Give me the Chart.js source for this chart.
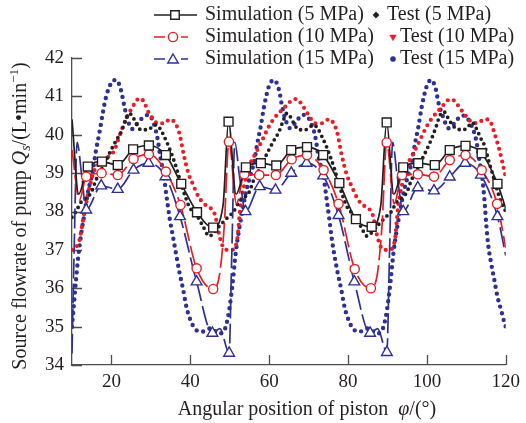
<!DOCTYPE html>
<html>
<head>
<meta charset="utf-8">
<script src="https://cdn.jsdelivr.net/npm/chart.js@4"></script>
<style>
  html, body { margin: 0; padding: 0; background: #fff; }
  canvas { display: block; }
</style>
</head>
<body>
<canvas id="flowChart" width="526" height="423"></canvas>
<script>
// ---- axis ticks ----
const xTicks = [20, 40, 60, 80, 100, 120];
const yTicks = [34, 35, 36, 37, 38, 39, 40, 41, 42];

// ---- simulation, 5 MPa (marked points + unmarked vertices) ----
const sim5X = [14, 17.6, 21.6, 25.5, 29.5, 33.8, 37.7, 41.7, 45.8, 49.7, 54.1, 57.9, 61.8, 65.6, 69.6, 73.7, 77.8, 82, 86, 89.8, 94, 97.8, 102, 105.8, 109.8, 113.9, 117.9];
const sim5Y = [39.17, 39.3, 39.21, 39.62, 39.72, 39.47, 38.72, 37.98, 37.58, 40.34, 39.15, 39.26, 39.2, 39.6, 39.68, 39.47, 38.74, 37.8, 37.6, 40.32, 39.15, 39.26, 39.21, 39.6, 39.71, 39.52, 38.72];
const sim5ExtraX = [10, 11.7, 48.3, 51.6, 88.3, 91.6, 120];
const sim5ExtraY = [40.4, 38.45, 38.15, 38.45, 38.15, 38.45, 38.08];

// ---- simulation, 10 MPa ----
const sim10X = [13.6, 17.5, 21.6, 25.6, 29.5, 33.8, 37.5, 41.6, 45.8, 49.8, 53.7, 57.5, 61.7, 65.7, 69.6, 73.8, 77.6, 81.7, 85.8, 89.8, 93.7, 97.7, 101.8, 105.8, 109.8, 113.9, 117.8];
const sim10Y = [38.91, 39.0, 38.95, 39.37, 39.49, 39.04, 38.17, 36.52, 35.98, 39.82, 38.97, 38.95, 38.95, 39.36, 39.47, 39.08, 38.2, 36.5, 36.0, 39.8, 38.95, 38.97, 38.91, 39.34, 39.47, 39.08, 38.2];
const sim10ExtraX = [10, 11.9, 47.4, 48.6, 51.7, 87.4, 88.6, 91.7, 120];
const sim10ExtraY = [39.6, 38.3, 36.35, 37.6, 38.2, 36.35, 37.6, 38.2, 37.05];

// ---- simulation, 15 MPa ----
const sim15X = [13.6, 17.4, 21.6, 25.6, 29.4, 33.7, 37.4, 41.6, 45.6, 49.85, 54, 57.6, 61.6, 65.6, 69.5, 73.7, 77.6, 81.6, 85.6, 89.85, 94, 97.7, 101.8, 105.8, 109.7, 113.7, 117.9];
const sim15Y = [38.04, 38.67, 38.58, 39.08, 39.26, 38.91, 37.87, 36.17, 34.83, 34.31, 38.0, 38.65, 38.56, 39.0, 39.26, 38.93, 37.9, 36.17, 34.83, 34.33, 38.0, 38.62, 38.54, 38.9, 39.26, 38.95, 37.87];
const sim15ExtraX = [10, 10.5, 11.3, 12.5, 47.5, 50.5, 51.3, 52.5, 87.5, 90.5, 91.3, 92.5, 120];
const sim15ExtraY = [34.3, 36.8, 39.8, 38.9, 34.95, 36.8, 39.8, 38.9, 34.95, 36.8, 39.8, 38.9, 36.85];

// ---- test, 5 MPa ----
const test5X = [
  10, 11, 12.4, 13.5, 14.9, 16, 17.4, 18.7, 19.9, 21.2, 22.5, 23.5, 24.5, 25.5, 26.5, 27.5, 29.2, 30.3, 31.3, 32.4, 33.4, 34.5, 35.5, 36.6, 37.6, 38.7, 39.7, 40.8, 41.8, 43.3, 44.8, 46, 47.2, 48.3, 49.5,
  51, 52.4, 53.5, 54.9, 56, 57.4, 58.7, 59.9, 61.2, 62.5, 63.5, 64.5, 65.5, 66.5, 67.5, 69.2, 70.3, 71.3, 72.4, 73.4, 74.5, 75.5, 76.6, 77.6, 78.7, 79.7, 80.8, 81.8, 83.3, 84.8, 86, 87.2, 88.3, 89.5,
  91, 92.4, 93.5, 94.9, 96, 97.4, 98.7, 99.9, 101.2, 102.3, 103.3, 104.3, 105.3, 106.5, 107.7, 109.3, 110.5, 111.5, 112.6, 113.7, 114.7, 115.6, 116.6, 117.7, 118.8, 120
];
const test5Y = [
  37.85, 38.0, 38.26, 38.35, 38.5, 38.8, 39.08, 39.35, 39.6, 39.85, 40.08, 40.35, 40.56, 40.45, 40.25, 40.13, 40.13, 40.2, 40.26, 40.15, 39.95, 39.7, 39.43, 39.1, 38.74, 38.4, 38.13, 37.98, 37.87, 37.6, 37.36, 37.45, 37.6, 37.72, 37.85,
  38.0, 38.26, 38.35, 38.5, 38.8, 39.08, 39.35, 39.6, 39.85, 40.08, 40.35, 40.56, 40.45, 40.25, 40.13, 40.13, 40.2, 40.26, 40.15, 39.95, 39.7, 39.43, 39.1, 38.74, 38.4, 38.13, 37.98, 37.87, 37.6, 37.36, 37.45, 37.6, 37.72, 37.85,
  38.0, 38.26, 38.35, 38.5, 38.8, 39.08, 39.35, 39.6, 39.9, 40.2, 40.5, 40.6, 40.45, 40.25, 40.15, 40.13, 40.22, 40.32, 40.15, 39.9, 39.7, 39.35, 39.0, 38.6, 38.25, 38.0
];

// ---- test, 10 MPa ----
const test10X = [
  10, 10.9, 11.9, 12.8, 13.6, 14.6, 15.7, 17, 18.2, 19.5, 20.8, 21.8, 22.9, 24.1, 25.4, 26.6, 27.4, 28.5, 29.3, 30.5, 31.7, 33.4, 34.8, 35.8, 37.2, 38.3, 39.5, 40.7, 42, 43.5, 44.5, 45.5, 46.3, 47.2, 48.2, 49.3, 50.4,
  51.5, 52, 52.4, 52.8, 53.6, 54.9, 56.6, 58.25, 59.9, 61.6, 63.7, 65.2, 66.5, 67.3, 68.3, 69.2, 70.45, 71.7, 73.4, 74.5, 75.5, 76.3, 77.2, 78.4, 79.7, 80.95, 82.6, 84.3, 85.5, 86.3, 87.2, 88.2, 89.3, 90.5,
  91.5, 92, 92.4, 92.8, 93.6, 94.9, 96.6, 98.25, 99.9, 101.6, 103.5, 105, 105.9, 106.8, 107.8, 108.7, 110.4, 111.7, 113.3, 114.4, 115.4, 116.3, 117.1, 118.4, 119.6, 120
];
const test10Y = [
  37.0, 37.05, 37.26, 37.78, 38.22, 38.7, 39.08, 39.25, 39.34, 39.45, 39.6, 39.9, 40.21, 40.5, 40.73, 40.92, 40.95, 40.8, 40.6, 40.42, 40.3, 40.3, 40.4, 40.35, 40.05, 39.5, 39.0, 38.7, 38.4, 38.2, 38.13, 38.05, 37.9, 37.45, 37.1, 37.0, 37.0,
  37.1, 37.35, 37.8, 38.2, 38.65, 39.17, 39.52, 39.86, 40.21, 40.47, 40.69, 40.85, 40.93, 40.92, 40.78, 40.65, 40.43, 40.3, 40.3, 40.38, 40.4, 40.3, 40.08, 39.47, 38.95, 38.65, 38.3, 38.13, 38.05, 37.9, 37.45, 37.1, 37.0, 37.0,
  37.1, 37.35, 37.8, 38.2, 38.65, 39.17, 39.52, 39.86, 40.21, 40.47, 40.69, 40.87, 40.93, 40.9, 40.78, 40.65, 40.43, 40.3, 40.32, 40.4, 40.4, 40.3, 40.05, 39.6, 39.08, 38.9
];

// ---- test, 15 MPa ----
const test15X = [
  10, 10.5, 11, 11.5, 12.35, 13.2, 14, 15.3, 16.1, 17, 17.8, 18.65, 19.9, 21.2, 22.4, 23.3, 24.1, 25.3, 26.6, 28, 29.4, 30.5, 31.6, 32.4, 33.3, 34.1, 34.8, 35.6, 36.5, 37.3, 38.2, 39, 40.2, 41.4, 43, 44.2, 45.2, 46.3, 47.3, 48.3, 49, 49.85,
  50.7, 51.5, 52.4, 53.2, 54.1, 54.9, 56.2, 57, 57.85, 58.7, 59.9, 61.2, 62.5, 63.3, 64.15, 65.3, 66.7, 68.5, 69.6, 70.5, 71.7, 72.5, 73.8, 74.6, 75.2, 75.8, 76.6, 77.4, 78.3, 79.1, 80.3, 81.5, 83, 84.2, 85.2, 86.3, 87.3, 88.3, 89, 89.85,
  90.7, 91.5, 92.4, 93.2, 94.1, 94.9, 96.2, 97, 97.85, 98.7, 99.9, 101.1, 102.3, 102.9, 104.1, 105.5, 107, 108.5, 109.6, 110.5, 111.3, 112.5, 113.3, 114.1, 114.6, 115.1, 115.5, 116.3, 117.1, 117.9, 118.8, 119.6, 120
];
const test15Y = [
  35.0, 35.6, 36.2, 36.74, 37.43, 37.96, 38.48, 39.08, 39.6, 40.08, 40.56, 40.99, 41.34, 41.43, 41.17, 40.73, 40.39, 40.15, 40.3, 40.45, 40.52, 40.36, 39.95, 39.43, 38.91, 38.3, 37.8, 37.35, 36.83, 36.39, 35.96, 35.52, 35.13, 34.92, 34.87, 34.92, 34.96, 34.88, 34.82, 34.86, 35.0, 35.42,
  36.1, 36.9, 37.55, 38.0, 38.5, 38.82, 39.3, 39.78, 40.21, 40.73, 41.25, 41.43, 41.17, 40.73, 40.39, 40.17, 40.32, 40.52, 40.48, 40.34, 39.95, 39.43, 38.91, 38.3, 37.85, 37.35, 36.83, 36.39, 35.96, 35.52, 35.13, 34.92, 34.87, 34.92, 34.96, 34.88, 34.82, 34.86, 35.0, 35.42,
  36.1, 36.9, 37.55, 38.0, 38.5, 38.82, 39.3, 39.78, 40.21, 40.73, 41.25, 41.43, 41.17, 40.85, 40.47, 40.17, 40.3, 40.48, 40.5, 40.4, 40.25, 39.86, 39.34, 38.82, 38.3, 37.61, 37.17, 36.65, 36.22, 35.78, 35.44, 35.13, 35.0
];

const serif = '"Liberation Serif", "Times New Roman", serif';
const ink = '#231f20';
const black = '#231f20';
const red = '#ec1c24';
const blue = '#2e3192';
const axisColor = '#4d4d4f';

function pairs(xs, ys) {
  return xs.map((x, i) => ({ x: x, y: ys[i] }));
}

function mergedLine(ax, ay, bx, by) {
  return pairs(ax.concat(bx), ay.concat(by)).sort((p, q) => p.x - q.x);
}

function markerSet(data, color, style, radius) {
  return {
    data: data,
    showLine: false,
    borderColor: color,
    backgroundColor: '#fff',
    pointStyle: style,
    pointRadius: radius,
    pointBorderWidth: 1.4
  };
}

function simLine(data, color, dash) {
  return {
    data: data,
    borderColor: color,
    borderWidth: 1.7,
    borderDash: dash,
    pointRadius: 0,
    cubicInterpolationMode: 'monotone',
    fill: false
  };
}

function testLine(data, color, width, gap) {
  return {
    data: data,
    borderColor: color,
    borderWidth: width,
    borderDash: [0, gap],
    borderCapStyle: 'round',
    pointRadius: 0,
    cubicInterpolationMode: 'monotone',
    fill: false
  };
}

// short inward ticks on both axes
const innerTicks = {
  id: 'innerTicks',
  beforeDatasetsDraw(chart) {
    const { ctx, chartArea: a, scales: { x, y } } = chart;
    ctx.save();
    ctx.strokeStyle = axisColor;
    ctx.lineWidth = 1.3;
    ctx.beginPath();
    x.ticks.forEach(t => {
      const px = Math.round(x.getPixelForValue(t.value)) + 0.5;
      ctx.moveTo(px, a.bottom);
      ctx.lineTo(px, a.bottom - 10);
    });
    y.ticks.forEach(t => {
      const py = Math.round(y.getPixelForValue(t.value)) + 0.5;
      ctx.moveTo(a.left, py);
      ctx.lineTo(a.left + 10, py);
    });
    ctx.stroke();
    ctx.restore();
  }
};

function drawParts(ctx, parts, startX, baseY) {
  let cx = startX;
  parts.forEach(p => {
    ctx.font = p.font;
    ctx.fillText(p.text, cx, baseY + (p.dy || 0));
    cx += ctx.measureText(p.text).width;
  });
}

function partsWidth(ctx, parts) {
  return parts.reduce((w, p) => { ctx.font = p.font; return w + ctx.measureText(p.text).width; }, 0);
}

const axisTitles = {
  id: 'axisTitles',
  afterDraw(chart) {
    const ctx = chart.ctx;
    const normal = '20px ' + serif;
    const italic = 'italic 20px ' + serif;
    ctx.save();
    ctx.fillStyle = ink;
    ctx.textBaseline = 'alphabetic';

    const xParts = [
      { text: 'Angular position of piston  ', font: normal },
      { text: '\u03c6', font: italic },
      { text: '/(\u00b0)', font: normal }
    ];
    drawParts(ctx, xParts, 307 - partsWidth(ctx, xParts) / 2, 415);

    const yParts = [
      { text: 'Source flowrate of pump ', font: normal },
      { text: 'Q', font: italic },
      { text: 's', font: 'italic 14px ' + serif, dy: 4 },
      { text: '/(L\u2022min', font: normal },
      { text: '\u22121', font: '13px ' + serif, dy: -8 },
      { text: ')', font: normal }
    ];
    ctx.translate(26, 216);
    ctx.rotate(-Math.PI / 2);
    drawParts(ctx, yParts, -partsWidth(ctx, yParts) / 2, 0);
    ctx.restore();
  }
};

const legendRows = [
  { sim: 'Simulation (5 MPa)', test: 'Test (5 MPa)', color: black, style: 'rect', radius: 6, dash: [], segs: [[154, 197]], markX: 175, y: 15, testX: 376, testText: 387, testStyle: 'rectRot', testRadius: 3.2 },
  { sim: 'Simulation (10 MPa)', test: 'Test (10 MPa)', color: red, style: 'circle', radius: 4.6, dash: [], segs: [[154, 165], [181, 188]], markX: 173, y: 37, testX: 393, testText: 400, testStyle: 'triangle', testRadius: 3.8 },
  { sim: 'Simulation (15 MPa)', test: 'Test (15 MPa)', color: blue, style: 'triangle', radius: 6, dash: [], segs: [[154, 165], [181, 188]], markX: 173, y: 59, testX: 393, testText: 400, testStyle: 'circle', testRadius: 2.6 }
];

const customLegend = {
  id: 'customLegend',
  afterDraw(chart) {
    const ctx = chart.ctx;
    ctx.save();
    legendRows.forEach(r => {
      ctx.strokeStyle = r.color;
      ctx.lineWidth = 1.7;
      ctx.beginPath();
      r.segs.forEach(s => { ctx.moveTo(s[0], r.y); ctx.lineTo(s[1], r.y); });
      ctx.stroke();

      ctx.fillStyle = '#fff';
      ctx.lineWidth = 1.4;
      Chart.helpers.drawPoint(ctx, { pointStyle: r.style, radius: r.radius, borderWidth: 1.4, rotation: 0 }, r.markX, r.y + (r.style === 'triangle' ? 1 : 0));

      ctx.fillStyle = r.color;
      ctx.strokeStyle = r.color;
      ctx.lineWidth = 0.5;
      Chart.helpers.drawPoint(ctx, { pointStyle: r.testStyle, radius: r.testRadius, borderWidth: 0.5, rotation: r.testStyle === 'triangle' ? 180 : 0 }, r.testX, r.y);

      ctx.fillStyle = ink;
      ctx.font = '20px ' + serif;
      ctx.textBaseline = 'middle';
      ctx.fillText(r.sim, 205, r.y);
      ctx.fillText(r.test, r.testText, r.y);
    });
    ctx.restore();
  }
};

new Chart(document.getElementById('flowChart'), {
  type: 'line',
  data: {
    datasets: [
      markerSet(pairs(sim5X, sim5Y), black, 'rect', 6.3),
      markerSet(pairs(sim10X, sim10Y), red, 'circle', 4.6),
      markerSet(pairs(sim15X, sim15Y), blue, 'triangle', 6.2),
      simLine(mergedLine(sim5X, sim5Y, sim5ExtraX, sim5ExtraY), black, []),
      simLine(mergedLine(sim10X, sim10Y, sim10ExtraX, sim10ExtraY), red, [20, 5]),
      simLine(mergedLine(sim15X, sim15Y, sim15ExtraX, sim15ExtraY), blue, [20, 5]),
      testLine(pairs(test5X, test5Y), black, 3.8, 5.8),
      testLine(pairs(test10X, test10Y), red, 4.2, 6.5),
      testLine(pairs(test15X, test15Y), blue, 4.4, 6.8)
    ]
  },
  options: {
    responsive: false,
    animation: false,
    devicePixelRatio: 1,
    layout: { padding: { top: 58, right: 18, left: 0, bottom: 0 } },
    plugins: { legend: { display: false }, tooltip: { enabled: false } },
    scales: {
      x: {
        type: 'linear',
        min: 10,
        max: 120,
        afterBuildTicks: s => { s.ticks = xTicks.map(v => ({ value: v })); },
        afterFit: s => { s.height = 58; },
        grid: { display: true, drawOnChartArea: false, drawTicks: false },
        border: { display: true, color: axisColor, width: 1.3 },
        ticks: { font: { family: serif, size: 19 }, color: ink, padding: 6, maxRotation: 0, autoSkip: false }
      },
      y: {
        type: 'linear',
        min: 34,
        max: 42,
        afterBuildTicks: s => { s.ticks = yTicks.map(v => ({ value: v })); },
        afterFit: s => { s.width = 72; },
        grid: { display: true, drawOnChartArea: false, drawTicks: false },
        border: { display: true, color: axisColor, width: 1.3 },
        ticks: { font: { family: serif, size: 19 }, color: ink, padding: 8, autoSkip: false }
      }
    }
  },
  plugins: [innerTicks, axisTitles, customLegend]
});
</script>
</body>
</html>
